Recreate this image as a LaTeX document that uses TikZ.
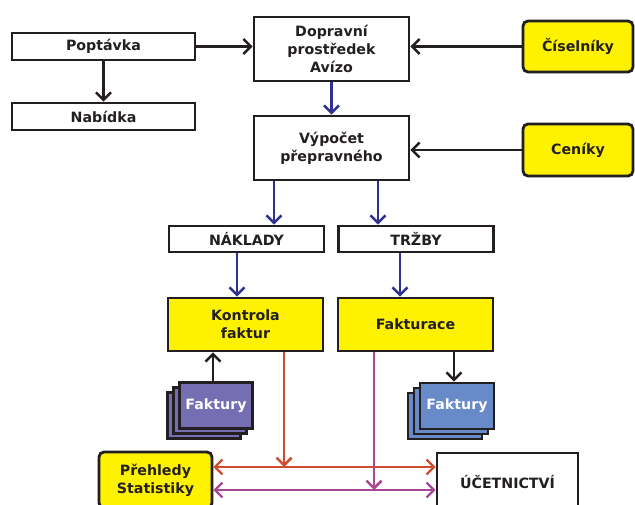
\documentclass[tikz,border=0pt]{standalone}
\usepackage{fontspec}
\setmainfont{DejaVu Sans}
\usetikzlibrary{arrows.meta,shadows}
\definecolor{ink}{RGB}{35,31,32}
\definecolor{lemon}{RGB}{255,242,0}
\definecolor{navy}{RGB}{46,49,146}
\definecolor{brick}{RGB}{208,76,48}
\definecolor{plum}{RGB}{168,72,148}
\definecolor{lilac}{RGB}{117,110,178}
\definecolor{steel}{RGB}{104,138,200}

\tikzset{
  box/.style={draw=ink, line width=2.8pt, fill=white, text=ink, align=center,
    inner sep=0pt, font=\bfseries\fontsize{14.2}{18}\selectfont},
  source/.style={box, fill=lemon, rounded corners=5pt},
  task/.style={box, fill=lemon},
  pile/.style={box, text=white, double copy shadow={shadow xshift=-6pt, shadow yshift=-5pt}},
  flow/.style={line width=2.5pt, -{Straight Barb[length=7.5pt,width=15pt]}},
  both/.style={line width=2.2pt, {Straight Barb[length=7.5pt,width=15pt]}-{Straight Barb[length=7.5pt,width=15pt]}}
}

\begin{document}
\begin{tikzpicture}[x=1pt,y=-1pt]
\useasboundingbox (0,0) rectangle (635,505);

\node[box, minimum width=183, minimum height=27] (poptavka) at (103.5,46.5) {Poptávka};
\node[box, minimum width=183, minimum height=27] (nabidka) at (103.5,116.5) {Nabídka};
\node[box, minimum width=155, minimum height=64] (doprava) at (331.5,49) {Dopravní\\prostředek\\Avízo};
\node[box, minimum width=155, minimum height=64] (vypocet) at (331.5,148) {Výpočet\\přepravného};
\node[source, minimum width=110, minimum height=51] (ciselniky) at (578,46.5) {Číselníky};
\node[source, minimum width=110, minimum height=52] (ceniky) at (578,150) {Ceníky};
\node[box, minimum width=155, minimum height=26] (naklady) at (246.5,239) {NÁKLADY};
\node[box, minimum width=155, minimum height=26] (trzby) at (416,239) {TRŽBY};
\node[task, minimum width=155, minimum height=53] (kontrola) at (245.5,324.5) {Kontrola\\faktur};
\node[task, minimum width=155, minimum height=53] (fakturace) at (415.5,324.5) {Fakturace};
\node[pile, fill=lilac, minimum width=73, minimum height=46] (fakturyL) at (216,405.5) {Faktury};
\node[pile, fill=steel, minimum width=74, minimum height=46] (fakturyR) at (457,406) {Faktury};
\node[source, minimum width=113, minimum height=56] (prehledy) at (155.5,480) {Přehledy\\Statistiky};
\node[box, minimum width=141, minimum height=58] (ucetnictvi) at (507.5,482) {ÚČETNICTVÍ};

\coordinate (redrow) at (0,467);
\coordinate (plumrow) at (0,490);

% upper part
\draw[flow, ink] (poptavka.east) -- (poptavka.east -| doprava.west);
\draw[flow, ink] (poptavka.south) -- (nabidka.north);
\draw[flow, ink] (ciselniky.west) -- (ciselniky.west -| doprava.east);
\draw[flow, ink] (ceniky.west) -- (ceniky.west -| vypocet.east);
\draw[flow, navy] (doprava.south) -- (vypocet.north);
\draw[flow, navy] ([xshift=-57.5pt]vypocet.south) -- ([xshift=-57.5pt]vypocet.south |- naklady.north);
\draw[flow, navy] ([xshift=46.5pt]vypocet.south) -- ([xshift=46.5pt]vypocet.south |- trzby.north);
\draw[flow, navy] ([xshift=-9.5pt]naklady.south) -- ([xshift=-9.5pt]naklady.south |- kontrola.north);
\draw[flow, navy] ([xshift=-16pt]trzby.south) -- ([xshift=-16pt]trzby.south |- fakturace.north);

% invoices
\draw[flow, ink] ([xshift=-3pt]fakturyL.north) -- ([xshift=-3pt]fakturyL.north |- kontrola.south);
\draw[flow, ink] ([xshift=38.5pt]fakturace.south) -- ([xshift=38.5pt]fakturace.south |- fakturyR.north);

% bottom links
\draw[flow, brick] ([xshift=38.5pt]kontrola.south) -- ([xshift=38.5pt]kontrola.south |- redrow);
\draw[both, brick] (prehledy.east |- redrow) -- (ucetnictvi.west |- redrow);
\draw[flow, plum] ([xshift=-41.5pt]fakturace.south) -- ([xshift=-41.5pt]fakturace.south |- plumrow);
\draw[both, plum] (prehledy.east |- plumrow) -- (ucetnictvi.west |- plumrow);

\end{tikzpicture}
\end{document}
